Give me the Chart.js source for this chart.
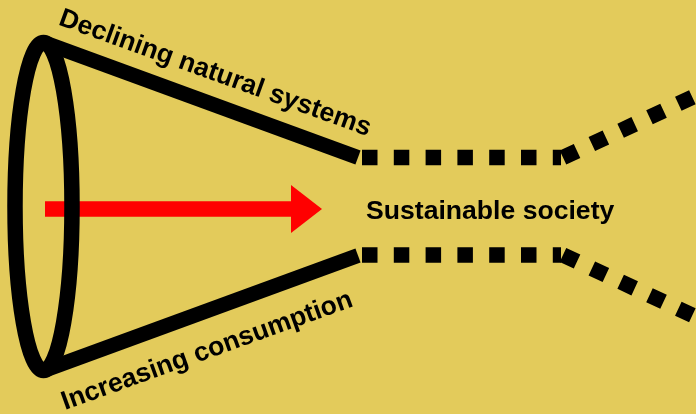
<!DOCTYPE html>
<html>
<head>
<meta charset="utf-8">
<script src="https://cdn.jsdelivr.net/npm/chart.js@4/dist/chart.umd.min.js"></script>
<style>
  html, body { margin: 0; padding: 0; background: #E3CB5B; overflow: hidden; }
  #wrap { width: 696px; height: 414px; }
</style>
</head>
<body>
<div id="wrap"><canvas id="c" width="696" height="414"></canvas></div>
<script>
// ---- Diagram data (in diagram units) ----
const upperSolid    = [[44, 42.5], [358, 157.5]];
const lowerSolid    = [[44, 370.5], [358, 255.5]];
const upperDotted   = [[362, 157.5], [561, 157.5]];
const upperOpening  = [[563, 157.5], [694, 96.5]];
const lowerDotted   = [[362, 255], [561, 255]];
const lowerOpening  = [[563, 255], [694, 316]];
const arrowShaft    = [[45, 209], [291, 209]];
const arrowHead     = [[291, 185], [322, 209], [291, 233]];
const ringCenter    = [43.5, 206.5];
const ringRadii     = [28.5, 164];
const labelTexts    = ['Declining natural systems', 'Sustainable society', 'Increasing consumption'];
const labelAnchors  = [[57.5, 24.5], [366, 219], [65, 410]];
const labelAngles   = [19.8, 0, -19.8];

const toPts = a => a.map(p => ({x: p[0], y: p[1]}));

const BLACK = '#000000';
const RED = '#FF0000';
const DASH = [15.5, 16.3];

function lineDs(arr, color, width, dash) {
  return {
    data: toPts(arr),
    showLine: true,
    borderColor: color,
    backgroundColor: color,
    borderWidth: width,
    borderDash: dash || [],
    borderCapStyle: 'butt',
    borderJoinStyle: 'miter',
    pointRadius: 0,
    pointHoverRadius: 0,
    fill: false,
    tension: 0
  };
}

const diagramPlugin = {
  id: 'diagram',
  beforeDraw(chart) {
    const ctx = chart.ctx;
    ctx.save();
    ctx.fillStyle = '#E3CB5B';
    ctx.fillRect(0, 0, chart.width, chart.height);
    ctx.restore();
  },
  afterDatasetsDraw(chart) {
    const ctx = chart.ctx;
    const xs = chart.scales.x, ys = chart.scales.y;
    const px = v => xs.getPixelForValue(v);
    const py = v => ys.getPixelForValue(v);
    ctx.save();
    // arrow head
    ctx.fillStyle = RED;
    ctx.beginPath();
    arrowHead.forEach((p, i) => {
      if (i === 0) ctx.moveTo(px(p[0]), py(p[1])); else ctx.lineTo(px(p[0]), py(p[1]));
    });
    ctx.closePath();
    ctx.fill();
    // ring (ellipse)
    const cx = px(ringCenter[0]), cy = py(ringCenter[1]);
    const rx = Math.abs(px(ringCenter[0] + ringRadii[0]) - cx);
    const ry = Math.abs(py(ringCenter[1] + ringRadii[1]) - cy);
    ctx.strokeStyle = BLACK;
    ctx.lineWidth = 15.5;
    ctx.beginPath();
    ctx.ellipse(cx, cy, rx, ry, 0, 0, Math.PI * 2);
    ctx.stroke();
    // labels
    ctx.fillStyle = BLACK;
    ctx.font = 'bold 26.6px "Liberation Sans", Arial, sans-serif';
    ctx.textBaseline = 'alphabetic';
    ctx.textAlign = 'left';
    labelTexts.forEach((t, i) => {
      ctx.save();
      ctx.translate(px(labelAnchors[i][0]), py(labelAnchors[i][1]));
      ctx.rotate(labelAngles[i] * Math.PI / 180);
      ctx.fillText(t, 0, 0);
      ctx.restore();
    });
    ctx.restore();
  }
};

new Chart(document.getElementById('c'), {
  type: 'scatter',
  data: {
    datasets: [
      lineDs(arrowShaft, RED, 15.5),
      lineDs(upperSolid, BLACK, 15),
      lineDs(lowerSolid, BLACK, 15),
      lineDs(upperDotted, BLACK, 15.5, DASH),
      lineDs(upperOpening, BLACK, 15.5, DASH),
      lineDs(lowerDotted, BLACK, 15.5, DASH),
      lineDs(lowerOpening, BLACK, 15.5, DASH)
    ]
  },
  options: {
    responsive: false,
    animation: false,
    events: [],
    layout: { padding: 0 },
    plugins: { legend: { display: false }, tooltip: { enabled: false } },
    scales: {
      x: { type: 'linear', min: 0, max: 696, display: false },
      y: { type: 'linear', min: 0, max: 414, reverse: true, display: false }
    }
  },
  plugins: [diagramPlugin]
});
</script>
</body>
</html>
